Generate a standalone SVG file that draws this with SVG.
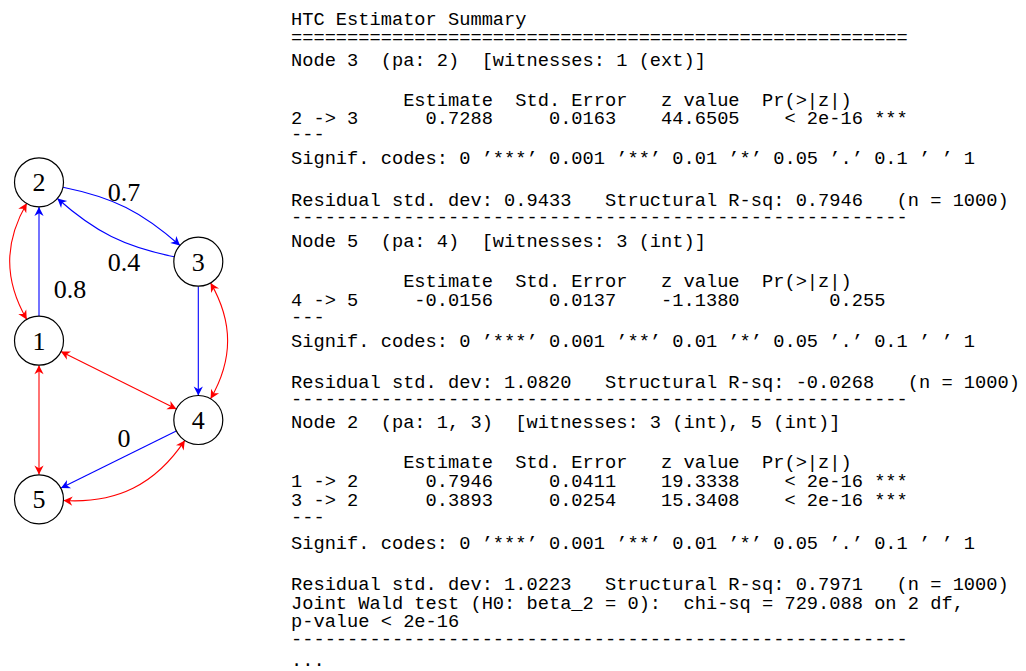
<svg xmlns="http://www.w3.org/2000/svg" width="1026" height="671" viewBox="0 0 1026 671">
<style>
.node circle{fill:#fff;stroke:#000;stroke-width:1.2}
.node text{font-family:"Liberation Serif","DejaVu Serif",serif;font-size:26px;text-anchor:middle;fill:#000}
.lbl{font-family:"Liberation Serif","DejaVu Serif",serif;font-size:26px;text-anchor:middle;fill:#000}
.b{fill:none;stroke:#0000ff;stroke-width:1.1}
.r{fill:none;stroke:#ff0000;stroke-width:1.1}
.mono text{font-family:"Liberation Mono","DejaVu Sans Mono",monospace;font-size:18.7px;fill:#000;white-space:pre}
</style>
<defs>
<marker id="ab" markerUnits="userSpaceOnUse" markerWidth="12" markerHeight="12" viewBox="-10 -6 12 12" refX="0" refY="0" orient="auto-start-reverse"><path d="M0,0 L-9,-4.6 L-6.3,0 L-9,4.6 Z" fill="#0000ff"/></marker>
<marker id="ar" markerUnits="userSpaceOnUse" markerWidth="12" markerHeight="12" viewBox="-10 -6 12 12" refX="0" refY="0" orient="auto-start-reverse"><path d="M0,0 L-9,-4.6 L-6.3,0 L-9,4.6 Z" fill="#ff0000"/></marker>
</defs>
<rect width="1026" height="671" fill="#fff"/>
<g id="connectors">
<path class="b" d="M63,187.2 C113.2,197.4 141.6,211.6 180,245.5" marker-end="url(#ab)"/>
<path class="b" d="M174.3,256.8 C124.1,246.6 95.7,232.4 57.4,198.5" marker-end="url(#ab)"/>
<path class="b" d="M39,316 L39,207" marker-end="url(#ab)"/>
<path class="r" d="M26.75,203.2 C4,242.6 4,280.1 26.75,319.5" marker-start="url(#ar)" marker-end="url(#ar)"/>
<path class="b" d="M198.3,286.2 L198.3,395.5" marker-end="url(#ab)"/>
<path class="r" d="M210.6,282.9 C233.3,322.2 233.3,359.5 210.6,398.8" marker-start="url(#ar)" marker-end="url(#ar)"/>
<path class="r" d="M60.9,351.6 L176.4,409.1" marker-start="url(#ar)" marker-end="url(#ar)"/>
<path class="r" d="M39,365.2 L39,474.5" marker-start="url(#ar)" marker-end="url(#ar)"/>
<path class="b" d="M176.3,430.9 L61,488.1" marker-end="url(#ab)"/>
<path class="r" d="M63.5,500.5 C116.4,503.8 155.5,484.6 184.8,440.4" marker-start="url(#ar)" marker-end="url(#ar)"/>
<text class="lbl" x="124" y="201">0.7</text>
<text class="lbl" x="124" y="271">0.4</text>
<text class="lbl" x="70" y="298">0.8</text>
<text class="lbl" x="124" y="447">0</text>
</g>
<g id="node1" class="node"><circle cx="39" cy="340.7" r="24.5"/><text x="39" y="349.5">1</text></g>
<g id="node2" class="node"><circle cx="39" cy="182.3" r="24.5"/><text x="39" y="191.1">2</text></g>
<g id="node3" class="node"><circle cx="198.3" cy="261.7" r="24.5"/><text x="198.3" y="270.5">3</text></g>
<g id="node4" class="node"><circle cx="198.3" cy="420" r="24.5"/><text x="198.3" y="428.8">4</text></g>
<g id="node5" class="node"><circle cx="39" cy="499.3" r="24.5"/><text x="39" y="508.1">5</text></g>
<g id="summary" class="mono">
<text xml:space="preserve" x="291" y="25">HTC Estimator Summary</text>
<text xml:space="preserve" x="291" y="43">=======================================================</text>
<text xml:space="preserve" x="291" y="66">Node 3  (pa: 2)  [witnesses: 1 (ext)]</text>
<text xml:space="preserve" x="291" y="106">          Estimate  Std. Error   z value  Pr(&gt;|z|)</text>
<text xml:space="preserve" x="291" y="124">2 -&gt; 3      0.7288     0.0163    44.6505    &lt; 2e-16 ***</text>
<text xml:space="preserve" x="291" y="140">---</text>
<text xml:space="preserve" x="291" y="164">Signif. codes: 0 ’***’ 0.001 ’**’ 0.01 ’*’ 0.05 ’.’ 0.1 ’ ’ 1</text>
<text xml:space="preserve" x="291" y="206">Residual std. dev: 0.9433   Structural R-sq: 0.7946   (n = 1000)</text>
<text xml:space="preserve" x="291" y="223">-------------------------------------------------------</text>
<text xml:space="preserve" x="291" y="247">Node 5  (pa: 4)  [witnesses: 3 (int)]</text>
<text xml:space="preserve" x="291" y="287">          Estimate  Std. Error   z value  Pr(&gt;|z|)</text>
<text xml:space="preserve" x="291" y="306">4 -&gt; 5     -0.0156     0.0137    -1.1380        0.255</text>
<text xml:space="preserve" x="291" y="323">---</text>
<text xml:space="preserve" x="291" y="347">Signif. codes: 0 ’***’ 0.001 ’**’ 0.01 ’*’ 0.05 ’.’ 0.1 ’ ’ 1</text>
<text xml:space="preserve" x="291" y="388">Residual std. dev: 1.0820   Structural R-sq: -0.0268   (n = 1000)</text>
<text xml:space="preserve" x="291" y="405">-------------------------------------------------------</text>
<text xml:space="preserve" x="291" y="428">Node 2  (pa: 1, 3)  [witnesses: 3 (int), 5 (int)]</text>
<text xml:space="preserve" x="291" y="468">          Estimate  Std. Error   z value  Pr(&gt;|z|)</text>
<text xml:space="preserve" x="291" y="487">1 -&gt; 2      0.7946     0.0411    19.3338    &lt; 2e-16 ***</text>
<text xml:space="preserve" x="291" y="506">3 -&gt; 2      0.3893     0.0254    15.3408    &lt; 2e-16 ***</text>
<text xml:space="preserve" x="291" y="523">---</text>
<text xml:space="preserve" x="291" y="549">Signif. codes: 0 ’***’ 0.001 ’**’ 0.01 ’*’ 0.05 ’.’ 0.1 ’ ’ 1</text>
<text xml:space="preserve" x="291" y="590">Residual std. dev: 1.0223   Structural R-sq: 0.7971   (n = 1000)</text>
<text xml:space="preserve" x="291" y="609">Joint Wald test (H0: beta_2 = 0):  chi-sq = 729.088 on 2 df,</text>
<text xml:space="preserve" x="291" y="627">p-value &lt; 2e-16</text>
<text xml:space="preserve" x="291" y="645">-------------------------------------------------------</text>
<text xml:space="preserve" x="291" y="666">...</text>
</g>
</svg>
